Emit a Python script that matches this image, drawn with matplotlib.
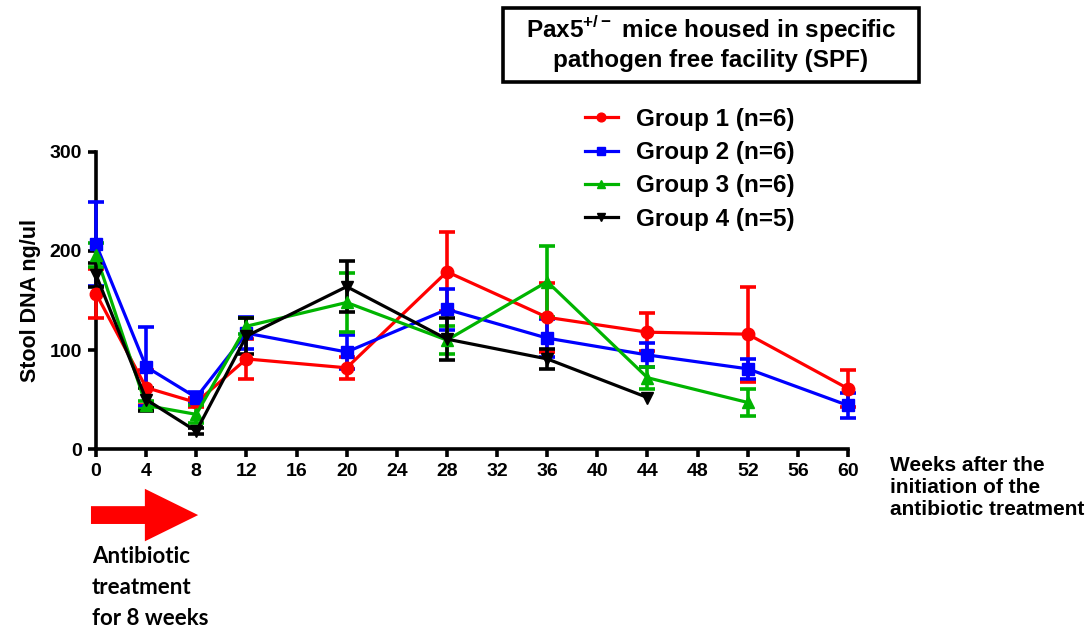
import numpy as np
import matplotlib
matplotlib.use('Agg')
import matplotlib.pyplot as plt
from matplotlib.patches import Rectangle, FancyArrow

plt.rcParams['font.family'] = ['Liberation Sans', 'DejaVu Sans']
plt.rcParams['mathtext.fontset'] = 'custom'
plt.rcParams['mathtext.rm'] = 'Liberation Sans'
plt.rcParams['mathtext.bf'] = 'Liberation Sans:bold'

# weeks after start of antibiotics
weeks = [0, 4, 8, 12, 20, 28, 36, 44, 52, 60]

# mean stool DNA (ng/ul) and error per group
g1_mean = [157, 62, 47, 91, 82, 179, 133, 118, 116, 61]
g1_err = [25, 18, 5, 20, 11, 40, 35, 19, 48, 19]
g2_mean = [207, 83, 52, 117, 98, 141, 112, 95, 81, 44]
g2_err = [42, 40, 6, 16, 17, 21, 19, 12, 10, 13]
g3_weeks = [0, 4, 8, 12, 20, 28, 36, 44, 52]
g3_mean = [196, 44, 35, 124, 148, 110, 169, 72, 47]
g3_err = [12, 4, 9, 8, 30, 14, 36, 11, 14]
g4_weeks = [0, 4, 8, 12, 20, 28, 36, 44]
g4_mean = [176, 50, 18, 114, 164, 111, 91, 52]
g4_err = [12, 12, 3, 18, 26, 21, 10, np.nan]

labels = ['Group 1 (n=6)', 'Group 2 (n=6)', 'Group 3 (n=6)', 'Group 4 (n=5)']
colors = ['#ff0000', '#0000ff', '#00b400', '#000000']
markers = ['o', 's', '^', 'v']

fig = plt.figure(figsize=(10.92, 6.28), dpi=100)
ax = fig.add_axes([0.0879, 0.285, 0.6887, 0.473])

series = [(weeks, g1_mean, g1_err), (weeks, g2_mean, g2_err),
          (g3_weeks, g3_mean, g3_err), (g4_weeks, g4_mean, g4_err)]
handles = []
for (x, y, e), lab, c, m in zip(series, labels, colors, markers):
    eb = ax.errorbar(x, y, yerr=e, color=c, marker=m, ms=9, lw=2.3,
                     elinewidth=2.6, capsize=5.5, capthick=2.6,
                     label=lab, clip_on=False, zorder=3)
    for art in eb.lines[1] + eb.lines[2]:
        art.set_clip_on(False)
    handles.append(eb[0])

ax.set_xlim(0, 60)
ax.set_ylim(0, 300)
ax.set_xticks(range(0, 61, 4))
ax.set_yticks([0, 100, 200, 300])
ax.spines['top'].set_visible(False)
ax.spines['right'].set_visible(False)
ax.spines['left'].set_linewidth(2.6)
ax.spines['bottom'].set_linewidth(2.6)
ax.tick_params(width=2.6, length=6, labelsize=14, pad=4)
for t in ax.get_xticklabels() + ax.get_yticklabels():
    t.set_fontweight('bold')
ax.set_ylabel('Stool DNA ng/ul', fontsize=15.5, fontweight='bold', labelpad=6)

# legend
leg = fig.legend(handles=handles, labels=labels, loc='upper left',
                 bbox_to_anchor=(585 / 1092, 1 - 108 / 628), frameon=False,
                 prop={'weight': 'bold', 'size': 17.5}, handlelength=1.35,
                 handletextpad=0.75, labelspacing=0.42, markerscale=0.7,
                 borderpad=0, borderaxespad=0)

# boxed title
fig.add_artist(Rectangle((503 / 1092, 1 - 82 / 628), 416 / 1092, 74 / 628,
                         transform=fig.transFigure, fill=False, lw=2.6,
                         edgecolor='black'))
fig.text(711 / 1092, 1 - 29 / 628, r'Pax5$^{\mathbf{+/-}}$ mice housed in specific',
         ha='center', va='center', fontsize=17.5, fontweight='bold')
fig.text(711 / 1092, 1 - 61 / 628, 'pathogen free facility (SPF)',
         ha='center', va='center', fontsize=17.5, fontweight='bold')

# x axis label to the right
fig.text(890 / 1092, 1 - 456 / 628,
         'Weeks after the\ninitiation of the\nantibiotic treatment',
         ha='left', va='top', fontsize=15, fontweight='bold', linespacing=1.2)

# treatment arrow
ax.add_patch(FancyArrow(-0.4, -66.7, 8.55, 0, width=18, head_width=53,
                        head_length=4.25, length_includes_head=True,
                        color='#ff0000', lw=0, clip_on=False))
fig.text(92 / 1092, 1 - 546 / 628, 'Antibiotic\ntreatment\nfor 8 weeks',
         ha='left', va='top', fontsize=16, fontweight='bold',
         family=['Lato', 'DejaVu Sans'], linespacing=1.6)

fig.savefig('out.png', dpi=100)
